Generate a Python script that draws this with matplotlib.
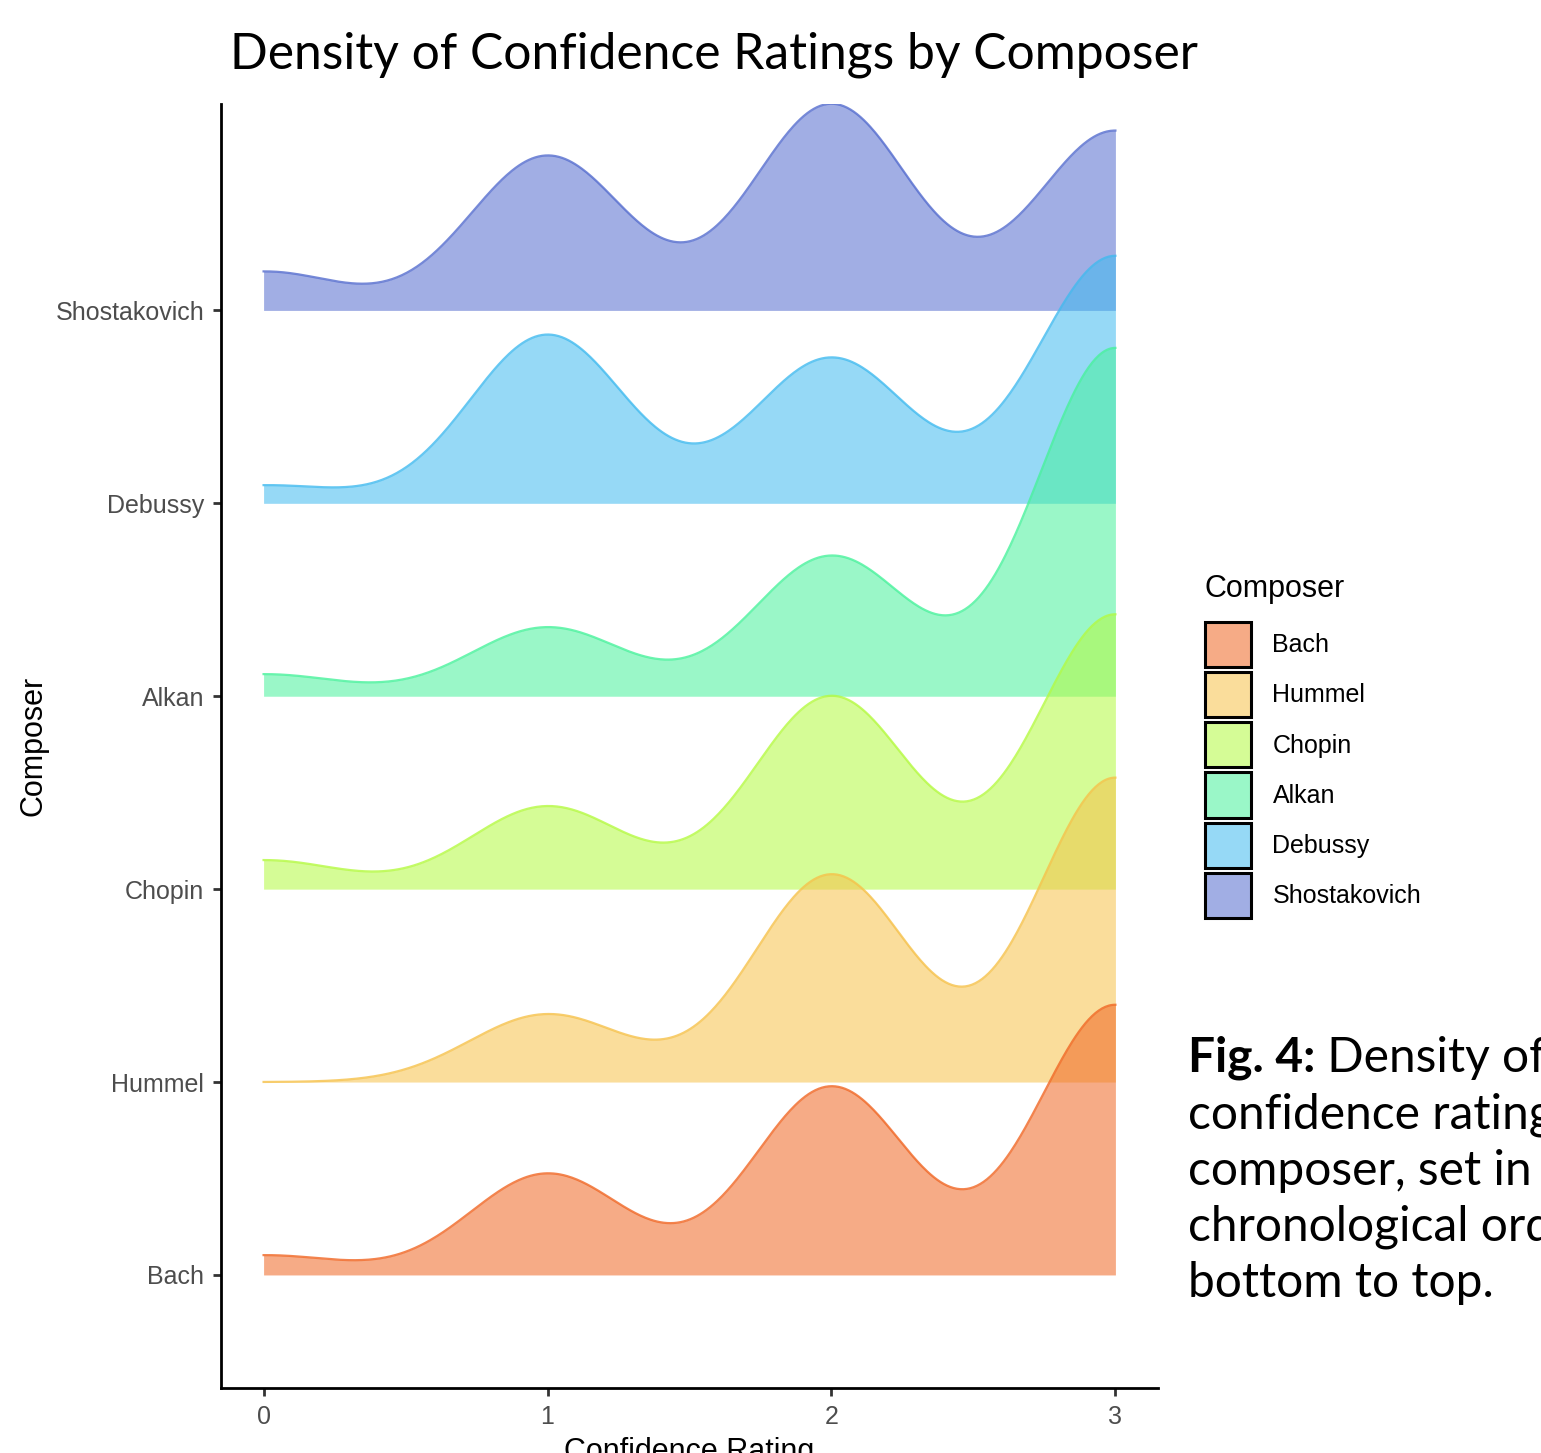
import matplotlib
matplotlib.use('Agg')
import matplotlib.pyplot as plt
from matplotlib.patches import Patch
import numpy as np

plt.rcParams['font.family'] = ['Liberation Sans', 'DejaVu Sans']

# composers bottom -> top, share of each rating (0,1,2,3) in percent
composers = ['Bach', 'Hummel', 'Chopin', 'Alkan', 'Debussy', 'Shostakovich']
ratings = [0, 1, 2, 3]
share = {
    'Bach':         [3.4, 17.5, 32.5, 46.6],
    'Hummel':       [0.0, 11.7, 35.8, 52.5],
    'Chopin':       [5.0, 14.3, 33.3, 47.4],
    'Alkan':        [3.8, 11.9, 24.2, 60.1],
    'Debussy':      [3.1, 29.1, 25.1, 42.7],
    'Shostakovich': [6.7, 26.7, 35.6, 31.0],
}
colors = ['#F06623', '#F6C149', '#B4FA40', '#47F29B', '#40BAEF', '#546CCE']

bw = 0.275       # kernel bandwidth
scale = 2.07     # ridge height scaling
alpha = 0.55

fig = plt.figure(figsize=(15.41, 14.53), dpi=100)
ax = fig.add_axes([221/1541, 1-1388/1453, (1158-221)/1541, (1388-104)/1453])

xs = np.linspace(0, 3, 512)
# draw top ridge first so the lower ones sit on top of it
for i in range(len(composers)-1, -1, -1):
    name = composers[i]
    p = np.array(share[name]) / np.sum(share[name])
    dens = np.zeros_like(xs)
    for r, w in zip(ratings, p):
        dens += w * np.exp(-0.5*((xs-r)/bw)**2) / (bw*np.sqrt(2*np.pi))
    base = i + 1
    top = base + scale*dens
    ax.fill_between(xs, base, top, color=colors[i], alpha=alpha, lw=0, zorder=2*(6-i))
    ax.plot(xs, top, color=colors[i], alpha=0.8, lw=1.6, zorder=2*(6-i)+1)

ax.set_xlim(-0.15, 3.15)
ax.set_ylim(0.414, 7.07)
ax.set_xticks(ratings)
ax.set_yticks(range(1, len(composers)+1))
ax.set_yticklabels(composers)
for s in ['top', 'right']:
    ax.spines[s].set_visible(False)
for s in ['left', 'bottom']:
    ax.spines[s].set_linewidth(2)
ax.tick_params(axis='both', labelsize=18, labelcolor='#4D4D4D', color='#333333',
               length=6, width=2, pad=6)
ax.set_xlabel('Confidence Rating', fontsize=22, va='top')
ax.xaxis.set_label_coords(0.5, -49/1284)
ax.set_ylabel('Composer', fontsize=22, va='center')
ax.yaxis.set_label_coords((33-221)/937, 0.5)

fig.text(230/1541, 1-68/1453, 'Density of Confidence Ratings by Composer',
         fontsize=35.8, family='Lato', va='baseline', ha='left')

handles = [Patch(facecolor=matplotlib.colors.to_rgba(c, alpha), edgecolor='black', linewidth=2.2)
           for c in colors]
leg = fig.legend(handles, composers, loc='upper left', bbox_to_anchor=(1205/1541, 1-574/1453),
                 frameon=False, fontsize=18, title='Composer', title_fontsize=22,
                 handlelength=1.85, handleheight=2.4, labelspacing=0.2, handletextpad=0.85,
                 borderpad=0, borderaxespad=0, alignment='left')
leg._legend_box.sep = 13

# caption
cap_x = 1188/1541
fs = 34.5
bold = fig.text(cap_x, 1-1072/1453, 'Fig. 4:', fontsize=fs, family='Lato', weight='bold',
                va='baseline', ha='left')
ann = plt.annotate(' Density of', xy=(1, 0), xycoords=bold, fontsize=fs, family='Lato',
                   va='bottom', ha='left', annotation_clip=False)
lines = ['confidence ratings by', 'composer, set in', 'chronological order', 'bottom to top.']
for k, t in enumerate(lines):
    fig.text(cap_x, 1-(1072+56.3*(k+1))/1453, t, fontsize=fs, family='Lato',
             va='baseline', ha='left')

fig.savefig('out.png', dpi=100)
